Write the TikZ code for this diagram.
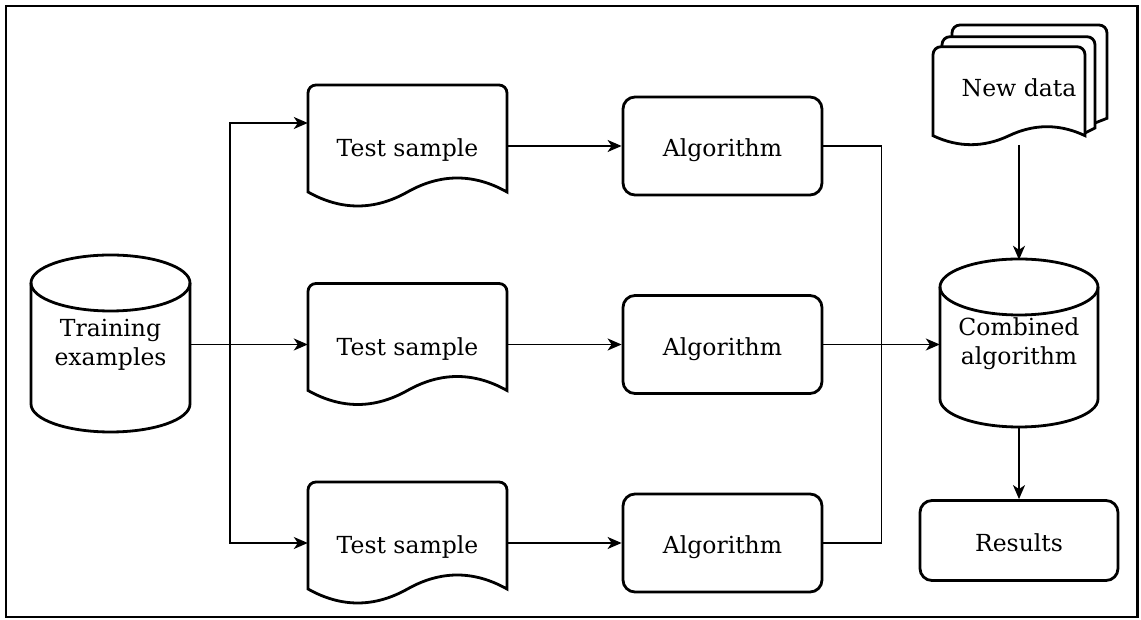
\documentclass[tikz,border=0pt]{standalone}
\usepackage{fontspec}
\setmainfont{DejaVu Serif}
\usetikzlibrary{arrows.meta,calc}
\newcommand\wavedoc[5]{% #1 left x, #2 width, #3 top Y, #4 drop to ends, #5 wave amplitude
  \draw[shp] (#1,#3-#4) -- (#1,#3-8) arc[start angle=180,end angle=90,radius=8pt]
    -- (#1+#2-8,#3) arc[start angle=90,end angle=0,radius=8pt]
    -- (#1+#2,#3-#4)
    .. controls (#1+5*#2/6,#3-#4+4*#5/3) and (#1+2*#2/3,#3-#4+4*#5/3) .. (#1+#2/2,#3-#4)
    .. controls (#1+#2/3,#3-#4-4*#5/3) and (#1+#2/6,#3-#4-4*#5/3) .. (#1,#3-#4) -- cycle;}
\newcommand\cylout[5]{% #1 cx, #2 rx, #3 top Y, #4 bottom Y, #5 ry
  \draw[shp] (#1-#2,#3-#5) -- (#1-#2,#4+#5)
    arc[start angle=180,end angle=360,x radius=#2*1pt,y radius=#5*1pt]
    -- (#1+#2,#3-#5)
    arc[start angle=0,end angle=180,x radius=#2*1pt,y radius=#5*1pt] -- cycle;
  \draw[shp,fill=none] (#1-#2,#3-#5) arc[start angle=180,end angle=360,x radius=#2*1pt,y radius=#5*1pt];}
\begin{document}
\begin{tikzpicture}[x=1pt,y=1pt,
  shp/.style={draw=black,line width=2.8pt,fill=white},
  conn/.style={draw=black,line width=1.6pt},
  arr/.style={conn,-{Stealth[length=14pt,width=12pt,inset=4pt]}},
  lbl/.style={font=\fontsize{23.5}{29}\selectfont,text=black,align=center,inner sep=0pt},
  one/.style={lbl,text height=22pt,text depth=0.6pt},
  algbox/.style={one,draw=black,line width=2.8pt,fill=white,rounded corners=12pt,minimum width=199pt,minimum height=98pt},
]
\useasboundingbox (0,0) rectangle (1141,620);
\draw[line width=2.6pt] (6,3) rectangle (1137.5,614);

% Training examples
\cylout{110.5}{79.5}{365}{188}{28}
\node[lbl,minimum width=159pt,minimum height=177pt] (train) at (110.5,275.5) {Training\\examples};

% Test samples
\wavedoc{308}{199}{535}{107}{14}
\node[one,minimum width=199pt,minimum height=120pt] (d1) at (407.5,474) {Test sample};
\wavedoc{308}{199}{336.5}{107}{14}
\node[one,minimum width=199pt,minimum height=120pt] (d2) at (407.5,275.5) {Test sample};
\wavedoc{308}{199}{138}{107}{14}
\node[one,minimum width=199pt,minimum height=120pt] (d3) at (407.5,77) {Test sample};

% Algorithms
\node[algbox] (a1) at (722.5,474) {Algorithm};
\node[algbox] (a2) at (722.5,275.5) {Algorithm};
\node[algbox] (a3) at (722.5,77) {Algorithm};

% New data (multi document)
\draw[shp] (952,583.3) -- (952,587) arc[start angle=180,end angle=90,radius=8pt]
  -- (1099,595) arc[start angle=90,end angle=0,radius=8pt] -- (1107,501.7) -- (1095,497);
\draw[shp] (942,573.3) -- (942,575.3) arc[start angle=180,end angle=90,radius=8pt]
  -- (1087,583.3) arc[start angle=90,end angle=0,radius=8pt] -- (1095,492) -- (1085,487);
\wavedoc{933}{152}{573.3}{89}{9}
\node[one] (nd) at (1019,534) {New data};
\coordinate (ndbot) at (1019,475);

% Combined algorithm
\cylout{1019}{79}{361}{193}{28}
\node[lbl,minimum width=158pt,minimum height=168pt] (comb) at (1019,276) {Combined\\algorithm};

% Results
\node[algbox,minimum width=198pt,minimum height=80pt] (res) at (1019,79.5) {Results};

% Connectors
\coordinate (sp) at ($(train.east)+(40,0)$);
\draw[arr] (train.east) -- (train.east -| d2.west);
\draw[arr] (sp) |- ([yshift=23pt]d1.west);
\draw[arr] (sp) |- (d3.west);
\draw[arr] (d1.east) -- (a1.west);
\draw[arr] (d2.east) -- (a2.west);
\draw[arr] (d3.east) -- (a3.west);
\coordinate (jx) at ($(a1.east)+(58,0)$);
\draw[conn] (a1.east) -- (jx) -- (jx |- a3.east) -- (a3.east);
\draw[arr] (a2.east) -- (a2.east -| comb.west);
\draw[arr] (ndbot) -- (comb.north);
\draw[arr] (comb.south) -- (res.north);
\end{tikzpicture}
\end{document}
